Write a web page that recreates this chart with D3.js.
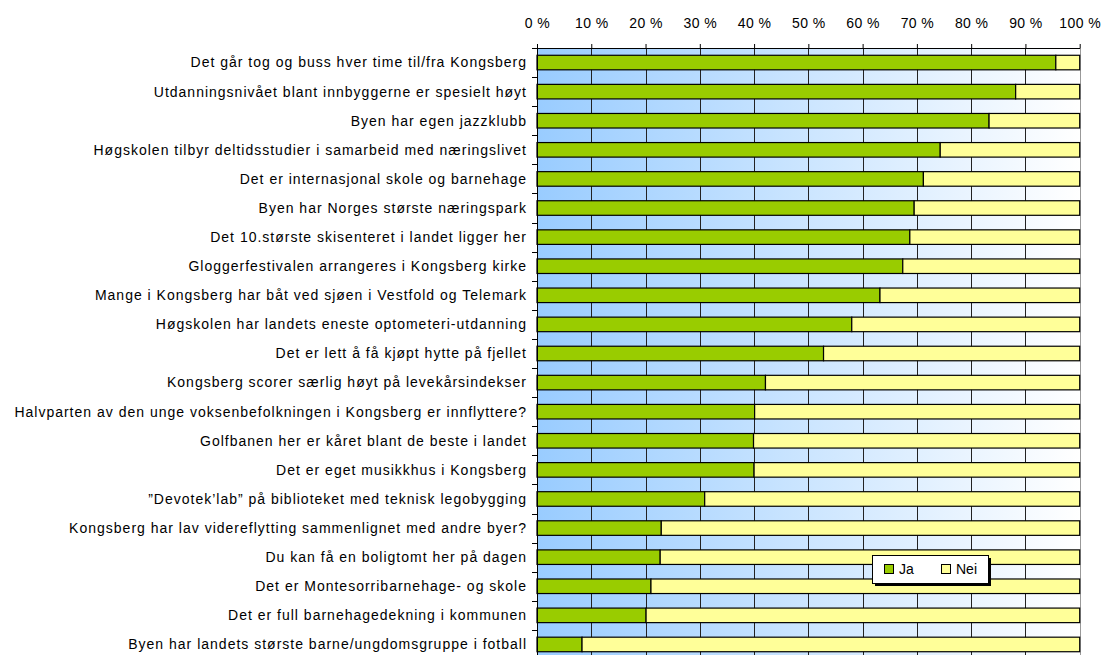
<!DOCTYPE html>
<html>
<head>
<meta charset="utf-8">
<script src="https://cdn.jsdelivr.net/npm/d3@7"></script>
<style>
  body { margin: 0; background: #fff; }
  text { font-family: "Liberation Sans", Arial, sans-serif; }
</style>
</head>
<body>
<div id="chart"></div>
<script>
// category labels, top to bottom
var categories = [
  "Det går tog og buss hver time til/fra Kongsberg",
  "Utdanningsnivået blant innbyggerne er spesielt høyt",
  "Byen har egen jazzklubb",
  "Høgskolen tilbyr deltidsstudier i samarbeid med næringslivet",
  "Det er internasjonal skole og barnehage",
  "Byen har Norges største næringspark",
  "Det 10.største skisenteret i landet ligger her",
  "Gloggerfestivalen arrangeres i Kongsberg kirke",
  "Mange i Kongsberg har båt ved sjøen i Vestfold og Telemark",
  "Høgskolen har landets eneste optometeri-utdanning",
  "Det er lett å få kjøpt hytte på fjellet",
  "Kongsberg scorer særlig høyt på levekårsindekser",
  "Halvparten av den unge voksenbefolkningen i Kongsberg er innflyttere?",
  "Golfbanen her er kåret blant de beste i landet",
  "Det er eget musikkhus i Kongsberg",
  "”Devotek’lab” på biblioteket med teknisk legobygging",
  "Kongsberg har lav videreflytting sammenlignet med andre byer?",
  "Du kan få en boligtomt her på dagen",
  "Det er Montesorribarnehage- og skole",
  "Det er full barnehagedekning i kommunen",
  "Byen har landets største barne/ungdomsgruppe i fotball"
]

// share answering "Ja" (percent)
var ja = [95.6, 88.2, 83.3, 74.3, 71.2, 69.5, 68.7, 67.4, 63.2, 58.0, 52.8,
  42.1, 40.1, 39.9, 40.0, 30.9, 22.9, 22.7, 21.0, 20.1, 8.3]
// share answering "Nei" (percent)
var nei = ja.map(function(d) { return 100 - d })

var seriesNames = ["Ja", "Nei"]
var seriesColors = ["#99CC00", "#FFFF99"]
var xTicks = [0, 10, 20, 30, 40, 50, 60, 70, 80, 90, 100]

var margin = { top: 48, left: 537 },
  width = 542.7,
  height = 611

var svg = d3.select("#chart").append("svg")
  .attr("width", 1104)
  .attr("height", 655)

var defs = svg.append("defs")
var grad = defs.append("linearGradient")
  .attr("id", "bg")
  .attr("x1", "0%").attr("x2", "100%")
  .attr("y1", "0%").attr("y2", "0%")
grad.append("stop").attr("offset", "0%").attr("stop-color", "#99CCFF")
grad.append("stop").attr("offset", "100%").attr("stop-color", "#FFFFFF")

var g = svg.append("g")
  .attr("transform", "translate(" + margin.left + "," + margin.top + ")")

var x = d3.scaleLinear().domain([0, 100]).range([0, width])
var y = d3.scaleBand().domain(categories).range([0, height])
  .paddingInner(0.5).paddingOuter(0.25)

// plot background
g.append("rect")
  .attr("width", width)
  .attr("height", height)
  .attr("fill", "url(#bg)")

// vertical grid lines
g.selectAll(".grid")
  .data(xTicks.slice(1, -1))
  .enter().append("line")
  .attr("class", "grid")
  .attr("x1", function(d) { return Math.round(x(d)) + 0.5 })
  .attr("x2", function(d) { return Math.round(x(d)) + 0.5 })
  .attr("y1", 0)
  .attr("y2", height)
  .attr("stroke", "#222")
  .attr("stroke-width", 1)

// right border
g.append("line")
  .attr("x1", Math.round(width) + 0.5).attr("x2", Math.round(width) + 0.5)
  .attr("y1", 0).attr("y2", height)
  .attr("stroke", "#999")

// stacked bars
var rows = categories.map(function(c, i) {
  return { cat: c, vals: [ja[i], nei[i]] }
})
rows.forEach(function(r) {
  var start = 0
  r.vals.forEach(function(v, k) {
    g.append("rect")
      .attr("x", x(start))
      .attr("y", y(r.cat))
      .attr("width", x(start + v) - x(start))
      .attr("height", y.bandwidth())
      .attr("fill", seriesColors[k])
      .attr("stroke", "#000")
      .attr("stroke-width", 1.2)
    start += v
  })
})

// top axis
var xAxis = g.append("g")
  .call(d3.axisTop(x).tickValues(xTicks)
    .tickFormat(function(d) { return d + " %" })
    .tickSize(4).tickPadding(16).tickSizeOuter(0))
xAxis.select(".domain").attr("stroke", "#000")
xAxis.selectAll("text")
  .attr("font-size", 14)
  .attr("letter-spacing", 0.4)
  .attr("fill", "#000")
  .style("font-family", "'Liberation Sans', Arial, sans-serif")

// left axis line and ticks between categories
g.append("line")
  .attr("x1", 0.5).attr("x2", 0.5)
  .attr("y1", 0).attr("y2", height)
  .attr("stroke", "#000")
g.selectAll(".ytick")
  .data(d3.range(categories.length + 1))
  .enter().append("line")
  .attr("class", "ytick")
  .attr("x1", -5).attr("x2", 0)
  .attr("y1", function(i) { return Math.round(i * y.step()) + 0.5 })
  .attr("y2", function(i) { return Math.round(i * y.step()) + 0.5 })
  .attr("stroke", "#000")

// category labels
g.selectAll(".cat")
  .data(categories)
  .enter().append("text")
  .attr("class", "cat")
  .attr("x", -10)
  .attr("y", function(d) { return y(d) + y.bandwidth() / 2 })
  .attr("dy", "0.35em")
  .attr("text-anchor", "end")
  .attr("font-size", 14)
  .attr("letter-spacing", 1.0)
  .attr("fill", "#000")
  .text(function(d) { return d })

// legend
var legend = svg.append("g").attr("transform", "translate(872,555)")
legend.append("rect")
  .attr("x", 3).attr("y", 3)
  .attr("width", 116).attr("height", 28)
  .attr("fill", "#000")
legend.append("rect")
  .attr("x", 0.5).attr("y", 0.5)
  .attr("width", 116).attr("height", 28)
  .attr("fill", "#fff")
  .attr("stroke", "#000")
var legendX = [12, 69]
seriesNames.forEach(function(name, k) {
  legend.append("rect")
    .attr("x", legendX[k] + 0.5).attr("y", 9.5)
    .attr("width", 9).attr("height", 9)
    .attr("fill", seriesColors[k])
    .attr("stroke", "#000")
  legend.append("text")
    .attr("x", legendX[k] + 15)
    .attr("y", 14)
    .attr("dy", "0.35em")
    .attr("font-size", 14)
    .text(name)
})
</script>
</body>
</html>
